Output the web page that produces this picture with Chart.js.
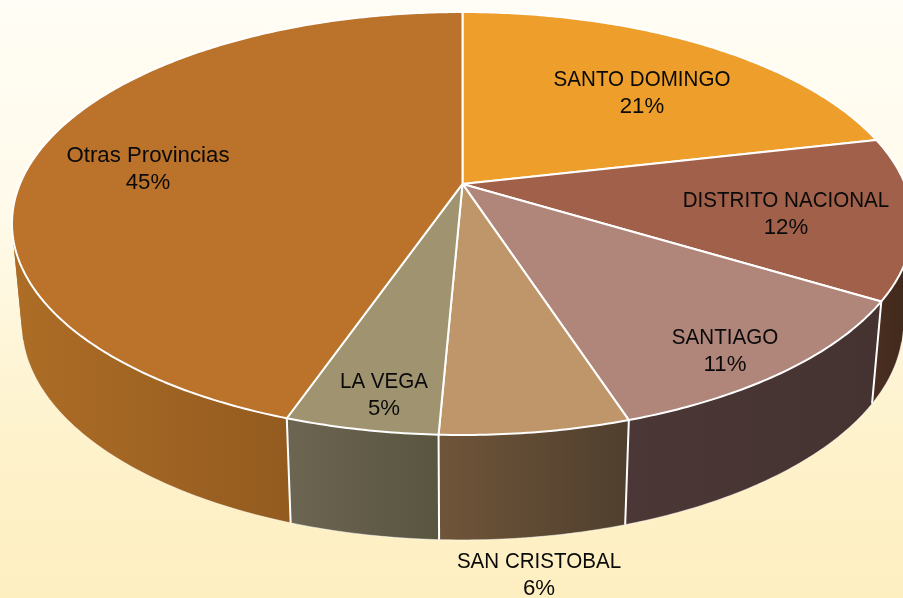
<!DOCTYPE html>
<html><head><meta charset="utf-8">
<style>html,body{margin:0;padding:0;background:#fef3cb;overflow:hidden}canvas{display:block}</style>
<script src="https://cdn.jsdelivr.net/npm/chart.js@4/dist/chart.umd.min.js"></script>
</head><body><canvas id="c" width="903" height="598"></canvas>
<script>
const categories = ['SANTO DOMINGO','DISTRITO NACIONAL','SANTIAGO','SAN CRISTOBAL','LA VEGA','Otras Provincias'];
const shares = [21.4,12.3,11.3,5.7,4.6,44.7];
const topColors = ['#ee9f2b','#a0604a','#b0857a','#bf9669','#a09470','#bb722a'];
const wallFrom = ['#b57a20','#4c3022','#4b3836','#705539','#6c6551','#ad6d26'];
const wallTo = ['#a06818','#3e271a','#453331','#4f3f2e','#595540','#83501b'];
const labelAnchors = [[642,80],[786,201],[725,338],[539,562],[384,382],[148,156]];

const TOP = {cx:462.5,cy:223.5,rx:450.5,ry:211.5,k:-0.187};
const BASE = {cx:462.5,cy:324,sx:0.978,sy:1.021};

function project(a){
  const u=Math.cos(a),v=Math.sin(a),s=Math.sqrt(1-TOP.k*TOP.k),d=1+TOP.k*v;
  return [TOP.cx+TOP.rx*u*s/d, TOP.cy+TOP.ry*(v+TOP.k)/d];
}
function drop(p){
  return [BASE.cx+BASE.sx*(p[0]-TOP.cx), BASE.cy+BASE.sy*(p[1]-TOP.cy)];
}
function arcPoints(a0,a1){
  const n=Math.max(2,Math.ceil((a1-a0)*90)),r=[];
  for(let i=0;i<=n;i++) r.push(project(a0+(a1-a0)*i/n));
  return r;
}
function quadArea(q){
  let s=0;
  for(let i=0;i<q.length;i++){const a=q[i],b=q[(i+1)%q.length];s+=a[0]*b[1]-b[0]*a[1];}
  return s;
}
function labelLine(ctx,text,x,y){
  const caps=/[A-Z]/.test(text)&&text===text.toUpperCase();
  ctx.save();ctx.translate(x,y);ctx.scale(caps?0.935:1.01,1);
  ctx.fillText(text,0,0);ctx.restore();
}
const pie3d = {
  id:'pie3d',
  beforeDraw(chart){
    const {ctx,width,height}=chart;
    const g=ctx.createLinearGradient(0,0,0,height);
    g.addColorStop(0,'#fffdf5');g.addColorStop(.35,'#fffaea');g.addColorStop(.75,'#fef2cb');g.addColorStop(1,'#feefc1');
    ctx.fillStyle=g;ctx.fillRect(0,0,width,height);
  },
  beforeDatasetsDraw(chart){
    const ctx=chart.ctx,arcs=chart.getDatasetMeta(0).data;
    const centre=[TOP.cx,TOP.cy+TOP.ry*TOP.k];
    ctx.save();ctx.lineJoin='round';
    // walls: ruled strip per slice, folded parts painted as a separate path
    arcs.forEach((a,i)=>{
      const pts=arcPoints(a.startAngle,a.endAngle);
      const bot=pts.map(drop);
      const xs=pts.concat(bot).map(p=>p[0]);
      const g=ctx.createLinearGradient(Math.min(...xs),0,Math.max(...xs),0);
      g.addColorStop(0,wallFrom[i]);g.addColorStop(1,wallTo[i]);
      ctx.fillStyle=g;
      [1,-1].forEach(sign=>{
        ctx.beginPath();
        for(let j=0;j<pts.length-1;j++){
          const q=[pts[j],pts[j+1],bot[j+1],bot[j]];
          if(Math.sign(quadArea(q))!==sign) continue;
          ctx.moveTo(q[0][0],q[0][1]);
          for(let m=1;m<4;m++) ctx.lineTo(q[m][0],q[m][1]);
          ctx.closePath();
        }
        ctx.fill();
      });
    });
    // pale lower rim on the front
    arcs.forEach(a=>{
      const bot=arcPoints(a.startAngle,a.endAngle).map(drop);
      ctx.beginPath();
      let on=false;
      bot.forEach(p=>{ if(p[1]>340){on?ctx.lineTo(p[0],p[1]):ctx.moveTo(p[0],p[1]);on=true;} });
      ctx.strokeStyle='rgba(255,255,255,.5)';ctx.lineWidth=1;ctx.stroke();
    });
    // white edges between the wall sections
    arcs.forEach(a=>{
      if(Math.sin(a.endAngle)>0.2){
        const p=project(a.endAngle),b=drop(p);
        ctx.beginPath();ctx.moveTo(p[0],p[1]);ctx.lineTo(b[0],b[1]);
        ctx.strokeStyle='#fff';ctx.lineWidth=2;ctx.stroke();
      }
    });
    // top face
    arcs.forEach((a,i)=>{
      const pts=arcPoints(a.startAngle,a.endAngle);
      ctx.beginPath();ctx.moveTo(centre[0],centre[1]);
      pts.forEach(p=>ctx.lineTo(p[0],p[1]));
      ctx.closePath();
      ctx.fillStyle=topColors[i];ctx.fill();
      ctx.strokeStyle='#fff';ctx.lineWidth=2;ctx.stroke();
    });
    // labels
    ctx.fillStyle='#0a0a0a';ctx.textAlign='center';ctx.textBaseline='middle';
    ctx.font='22px "Liberation Sans"';
    categories.forEach((c,i)=>{
      const [x,y]=labelAnchors[i];
      labelLine(ctx,c,x,y);
      labelLine(ctx,Math.round(shares[i])+'%',x,y+27);
    });
    ctx.restore();
    return false;
  }
};
new Chart(document.getElementById('c'),{
  type:'pie',
  data:{labels:categories,datasets:[{data:shares,backgroundColor:topColors,borderColor:'#fff',borderWidth:2}]},
  options:{responsive:false,animation:false,plugins:{legend:{display:false},tooltip:{enabled:false}}},
  plugins:[pie3d]
});
</script></body></html>
